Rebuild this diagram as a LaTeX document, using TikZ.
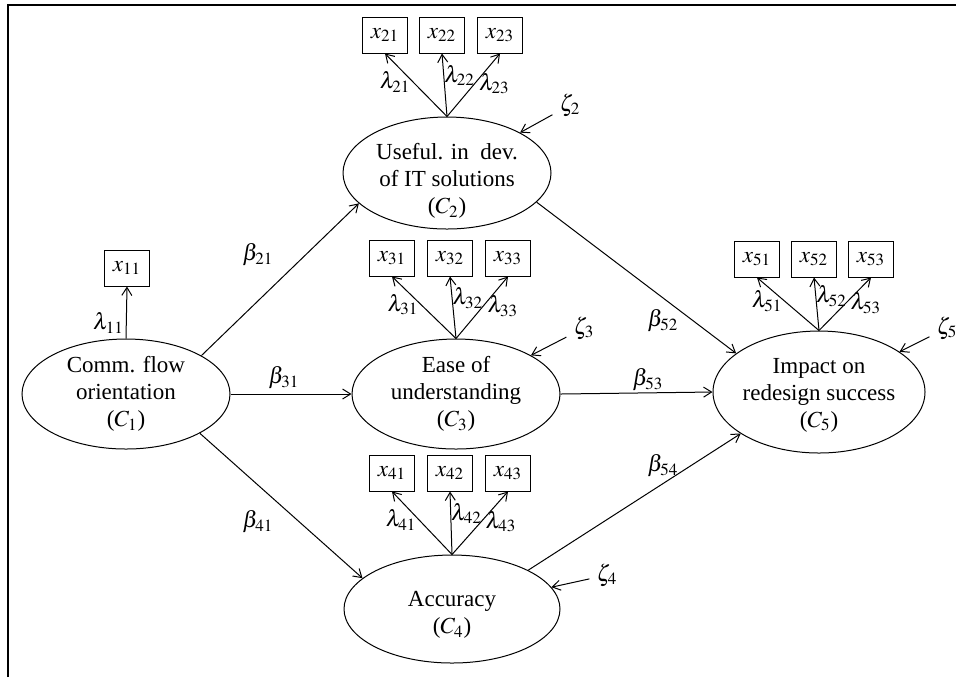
\documentclass[tikz,border=0pt]{standalone}
\usepackage{mathptmx}
\usepackage{fontspec}
\setmainfont{Liberation Serif}
\usetikzlibrary{shapes.geometric,arrows.meta}

\tikzset{
  latent/.style={draw,ellipse,inner sep=0pt,minimum width=104pt,minimum height=55pt},
  manifest/.style={draw,minimum width=22.5pt,minimum height=18pt,inner sep=0pt},
  coef/.style={inner sep=1pt},
}

\begin{document}
\begin{tikzpicture}[x=0.5pt,y=-0.5pt,font=\fontsize{11.5}{13.5}\selectfont,>={Straight Barb[length=4pt,width=5pt]},line width=0.5pt]
    \useasboundingbox (0,0) rectangle (956,677);
    \draw[line width=1pt] (8,677) -- (8,5) -- (956,5);
    % constructs
    \node[latent,label={[align=center]center:Comm. flow\\orientation\\($C_1$)}] (c1) at (126,394) {};
    \node[latent,minimum height=56pt,label={[align=center,yshift=-4pt]center:Useful. in\ \ dev.\\of IT solutions\\($C_2$)}] (c2) at (447,173) {};
    \node[latent,label={[align=center]center:Ease of\\understanding\\($C_3$)}] (c3) at (456,394) {};
    \node[latent,minimum width=108pt,minimum height=54pt,label={[align=center,yshift=-3pt]center:Accuracy\\($C_4$)}] (c4) at (452,609) {};
    \node[latent,minimum width=106pt,minimum height=61pt,label={[align=center,yshift=-1.5pt]center:Impact on\\redesign success\\($C_5$)}] (c5) at (819,392) {};
    % indicators
    \node[manifest] (x11) at (127,268) {$x_{11}$};
    \node[manifest] (x21) at (385,35) {$x_{21}$};
    \node[manifest] (x22) at (442,35) {$x_{22}$};
    \node[manifest] (x23) at (500,35) {$x_{23}$};
    \node[manifest] (x31) at (392,258) {$x_{31}$};
    \node[manifest] (x32) at (450,258) {$x_{32}$};
    \node[manifest] (x33) at (508,258) {$x_{33}$};
    \node[manifest] (x41) at (392,473) {$x_{41}$};
    \node[manifest] (x42) at (450,473) {$x_{42}$};
    \node[manifest] (x43) at (508,473) {$x_{43}$};
    \node[manifest] (x51) at (757,259) {$x_{51}$};
    \node[manifest] (x52) at (814,259) {$x_{52}$};
    \node[manifest] (x53) at (871,259) {$x_{53}$};
    % loadings
    \draw[->] (c1.north) -- (x11.south) node[coef,pos=.3,left] {$\lambda_{11}$};
    \draw[->] (c2.north) -- (x21.south) node[coef,pos=.55,left] {$\lambda_{21}$};
    \draw[->] (c2.north) -- (x22.south) node[coef,pos=.65,right,inner sep=0pt] {$\lambda_{22}$};
    \draw[->] (c2.north) -- (x23.south) node[coef,pos=.52,right,inner sep=2pt] {$\lambda_{23}$};
    \draw[->] (c3.north) -- (x31.south) node[coef,pos=.55,left] {$\lambda_{31}$};
    \draw[->] (c3.north) -- (x32.south) node[coef,pos=.65,right,inner sep=0pt] {$\lambda_{32}$};
    \draw[->] (c3.north) -- (x33.south) node[coef,pos=.52,right,inner sep=2pt] {$\lambda_{33}$};
    \draw[->] (c4.north) -- (x41.south) node[coef,pos=.55,left] {$\lambda_{41}$};
    \draw[->] (c4.north) -- (x42.south) node[coef,pos=.65,right,inner sep=0pt] {$\lambda_{42}$};
    \draw[->] (c4.north) -- (x43.south) node[coef,pos=.52,right,inner sep=2pt] {$\lambda_{43}$};
    \draw[->] (c5.north) -- (x51.south) node[coef,pos=.55,left] {$\lambda_{51}$};
    \draw[->] (c5.north) -- (x52.south) node[coef,pos=.65,right,inner sep=0pt] {$\lambda_{52}$};
    \draw[->] (c5.north) -- (x53.south) node[coef,pos=.52,right,inner sep=2pt] {$\lambda_{53}$};
    % structural paths
    \draw[->] (c1.27) -- (c2.199);
    \draw[->] (c1.east) -- (c3.west);
    \draw[->] (c1.332) -- (c4.161);
    \draw[->] (c2.342) -- (c5.155);
    \draw[->] (c3.east) -- (c5.west);
    \draw[->] (c4.27) -- (c5.208);
    \node (b21) at (258,255) {$\beta_{21}$};
    \node (b31) at (284,378) {$\beta_{31}$};
    \node (b41) at (258,522) {$\beta_{41}$};
    \node (b52) at (663,321) {$\beta_{52}$};
    \node (b53) at (648,380) {$\beta_{53}$};
    \node (b54) at (663,466) {$\beta_{54}$};
    % disturbances
    \node (z2) at (570,105) {$\zeta_2$};
    \node (z3) at (584,328) {$\zeta_3$};
    \node (z4) at (607,575) {$\zeta_4$};
    \node (z5) at (947,328) {$\zeta_5$};
    \draw[->] (z2) -- (c2);
    \draw[->] (z3) -- (c3);
    \draw[->] (z4) -- (c4);
    \draw[->] (z5) -- (c5);
\end{tikzpicture}
\end{document}
